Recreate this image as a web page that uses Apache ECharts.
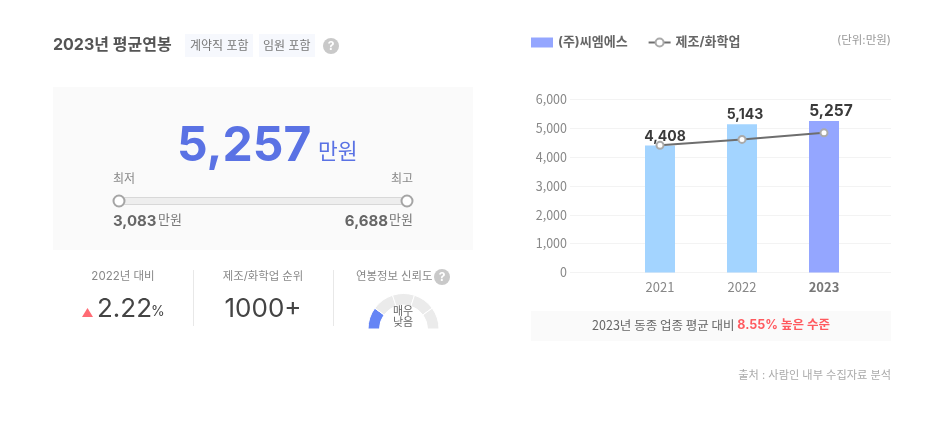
<!DOCTYPE html>
<html lang="ko">
<head>
<meta charset="UTF-8">
<title>2023년 평균연봉</title>
<style>
  html, body { margin: 0; padding: 0; background: #fff; }
  #chart { width: 950px; height: 427px; }
</style>
<script src="https://cdn.jsdelivr.net/npm/echarts@6/dist/echarts.min.js"></script>
</head>
<body>
<div id="chart"></div>
<script>
// 데이터
var years = ['2021', '2022', '2023'];
var companyPay = [4408, 5143, 5257];
var industryPay = [4415, 4615, 4843];
var payRange = [3083, 6688];
var trustLevels = [1, 1, 1, 1, 1];
var seriesNames = ['(주)씨엠에스', '제조/화학업'];

var FONT = 'Inter, "Noto Sans CJK KR", sans-serif';
var FONT_KR = '"Noto Sans CJK KR", sans-serif';

function fmt(n) {
  return n.toLocaleString('en-US');
}

function txt(x, y, text, size, color, weight, align, family) {
  return {
    type: 'text', x: x, y: y, z: 10, silent: true,
    style: {
      text: text, fill: color, align: align || 'left', verticalAlign: 'middle',
      fontSize: size, fontWeight: weight || 'normal', fontFamily: family || FONT
    }
  };
}

function box(x, y, w, h, color) {
  return { type: 'rect', z: -1, silent: true, shape: { x: x, y: y, width: w, height: h }, style: { fill: color } };
}

function help(x, y) {
  return [
    { type: 'circle', z: 9, silent: true, shape: { cx: x, cy: y, r: 8 }, style: { fill: '#c9c9c9' } },
    txt(x, y + 0.5, '?', 12, '#fff', 'bold', 'center')
  ];
}

var graphics = [
  box(53, 87, 420, 163, '#fafafa'),
  box(531, 311, 360, 30, '#fafafa'),
  box(185, 34, 68, 23, '#f6f8fd'),
  box(259, 34, 56, 23, '#f6f8fd'),
  box(193, 270, 1, 56, '#e8e8e8'),
  box(333, 270, 1, 56, '#e8e8e8'),

  txt(53, 45.5, '2023년 평균연봉', 16, '#555', 'bold'),
  txt(190, 46, '계약직 포함', 12, '#777'),
  txt(263, 46, '임원 포함', 12, '#777'),

  txt(177, 147, fmt(companyPay[2]), 48, '#5a72e4', 'bold'),
  txt(318, 153, '만원', 21.5, '#5a72e4'),
  txt(113, 179, '최저', 12, '#888'),
  txt(413, 179, '최고', 12, '#888', 'normal', 'right'),
  txt(113, 221, fmt(payRange[0]), 15, '#666', 'bold'),
  txt(158, 220, '만원', 13, '#777'),
  txt(388, 221, fmt(payRange[1]), 15, '#666', 'bold', 'right'),
  txt(413, 220, '만원', 13, '#777', 'normal', 'right'),

  txt(123, 277, '2022년 대비', 11.5, '#888', 'normal', 'center'),
  { type: 'polygon', z: 9, silent: true, shape: { points: [[87.5, 308], [93, 317], [82, 317]] }, style: { fill: '#ff6b74' } },
  txt(97, 309, '2.22', 26, '#444'),
  txt(151, 312, '%', 14, '#444'),
  txt(263, 277, '제조/화학업 순위', 11.4, '#888', 'normal', 'center'),
  txt(263, 309, '1000+', 26, '#444', 'normal', 'center'),
  txt(356, 277, '연봉정보 신뢰도', 11.4, '#888'),
  txt(403, 312, '매우', 11, '#666', 'normal', 'center'),
  txt(403, 323, '낮음', 11, '#666', 'normal', 'center'),

  txt(891, 41, '(단위:만원)', 11.5, '#999', 'normal', 'right'),
  txt(891, 376, '출처 : 사람인 내부 수집자료 분석', 11.2, '#aaa', 'normal', 'right'),
  {
    type: 'text', x: 711, y: 325, z: 10, silent: true,
    style: {
      text: '{a|2023년 동종 업종 평균 대비 }{b|8.55% 높은 수준}',
      align: 'center', verticalAlign: 'middle',
      rich: {
        a: { fontSize: 12.5, fill: '#666', fontFamily: FONT_KR },
        b: { fontSize: 12.5, fill: '#ff5a5f', fontWeight: 'bold', fontFamily: FONT }
      }
    }
  }
].concat(help(331, 46), help(442, 277));

var labelOffset = [[5, 3], [3, 3], [7, 3]];

var chart = echarts.init(document.getElementById('chart'), null, { renderer: 'canvas' });
chart.setOption({
  animation: false,
  textStyle: { fontFamily: FONT },
  graphic: graphics,
  legend: {
    left: 526, top: 31, itemWidth: 22, itemHeight: 10, itemGap: 20,
    data: [{ name: seriesNames[0], icon: 'rect' }, { name: seriesNames[1] }],
    selectedMode: false,
    textStyle: { fontSize: 13, fontWeight: 'bold', color: '#666', fontFamily: FONT }
  },
  grid: [
    { left: 570, right: 59, top: 99.5, height: 173 },
    { left: 619, width: 246, top: 99.5, height: 173 },
    { left: 119, width: 288, top: 195, height: 12 }
  ],
  xAxis: [
    { gridIndex: 0, type: 'category', show: false, data: years },
    {
      gridIndex: 1, type: 'category', data: years,
      axisLine: { show: false }, axisTick: { show: false },
      axisLabel: {
        margin: 8, fontSize: 13, color: '#888', fontFamily: FONT_KR,
        formatter: function (v) { return v === years[2] ? '{b|' + v + '}' : v; },
        rich: { b: { fontSize: 13, fontWeight: 'bold', color: '#777', fontFamily: FONT_KR } }
      }
    },
    { gridIndex: 2, type: 'value', show: false, min: payRange[0], max: payRange[1] }
  ],
  yAxis: [
    {
      gridIndex: 0, type: 'value', min: 0, max: 6000, interval: 1000,
      axisLine: { show: false }, axisTick: { show: false },
      axisLabel: { margin: 3, fontSize: 12.5, color: '#888', fontFamily: FONT_KR, formatter: fmt },
      splitLine: { lineStyle: { color: '#f3f3f3', width: 1 } }
    },
    { gridIndex: 1, type: 'value', show: false, min: 0, max: 6000 },
    { gridIndex: 2, type: 'value', show: false, min: -1, max: 1 }
  ],
  series: [
    {
      name: seriesNames[0], type: 'bar', xAxisIndex: 1, yAxisIndex: 1, barWidth: 30,
      itemStyle: { color: '#94a6ff' },
      data: companyPay.map(function (v, i) {
        return {
          value: v,
          itemStyle: { color: i === 2 ? '#94a6ff' : '#a3d4ff' },
          label: {
            show: true, position: 'top', offset: labelOffset[i], color: '#3a3a3a',
            fontWeight: 'bold', fontSize: i === 2 ? 15.5 : 14, fontFamily: FONT,
            formatter: function (p) { return fmt(p.value); }
          }
        };
      })
    },
    {
      name: seriesNames[1], type: 'line', xAxisIndex: 1, yAxisIndex: 1, z: 5,
      symbol: 'circle', symbolSize: 7, data: industryPay,
      lineStyle: { color: '#6e6e6e', width: 2 },
      itemStyle: { color: '#fff', borderColor: '#aaa', borderWidth: 2 }
    },
    {
      type: 'line', xAxisIndex: 2, yAxisIndex: 2, symbol: 'none', silent: true, clip: false,
      data: [[payRange[0], 0], [payRange[1], 0]],
      lineStyle: { color: '#d8d8d8', width: 8, cap: 'butt' }
    },
    {
      type: 'line', xAxisIndex: 2, yAxisIndex: 2, symbol: 'circle', symbolSize: 11, silent: true, clip: false,
      data: [[payRange[0], 0], [payRange[1], 0]],
      lineStyle: { color: '#eeeeee', width: 6 },
      itemStyle: { color: '#fff', borderColor: '#a5a5a5', borderWidth: 2 }
    },
    {
      type: 'pie', center: [403.5, 329], radius: [24, 35.5], startAngle: 180, endAngle: 0,
      silent: true, label: { show: false }, labelLine: { show: false },
      data: trustLevels.map(function (v, i) {
        return { value: v, itemStyle: { color: i === 0 ? '#6585f5' : '#ebebeb', borderColor: '#fff', borderWidth: 1 } };
      })
    }
  ]
});
</script>
</body>
</html>
